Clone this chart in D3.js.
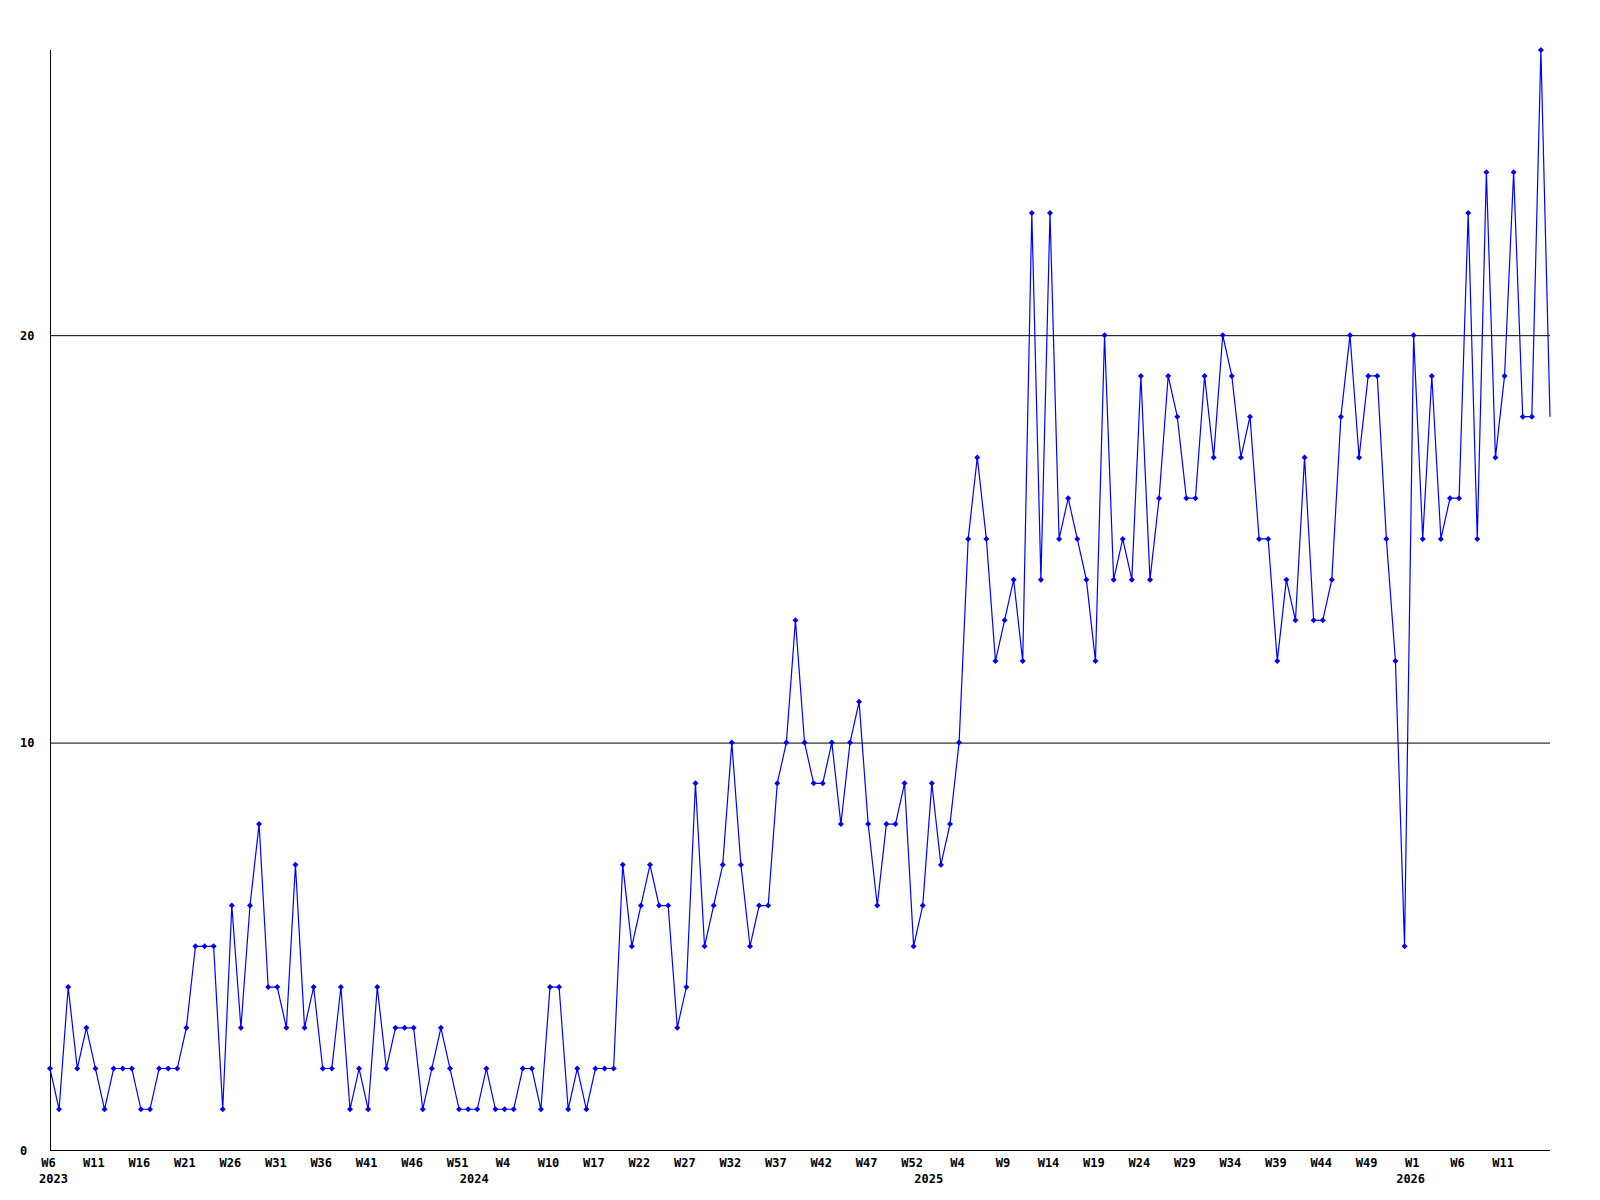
<!DOCTYPE html>
<html>
<head>
<meta charset="utf-8">
<script src="https://cdn.jsdelivr.net/npm/d3@7"></script>
<style>
  body { margin: 0; background: #ffffff; }
  #chart text { font-family: "DejaVu Sans Mono", monospace; font-weight: bold; font-size: 12px; fill: #000; }
</style>
</head>
<body>
<div id="chart"></div>
<script>
// weekly counts, one per point (2023 W6 .. 2026 W16)
const weekCounts = [
  2, 1, 4, 2, 3, 2, 1, 2, 2, 2, 1, 1, 2, 2, 2, 3, 5, 5, 5, 1,
  6, 3, 6, 8, 4, 4, 3, 7, 3, 4, 2, 2, 4, 1, 2, 1, 4, 2, 3, 3,
  3, 1, 2, 3, 2, 1, 1, 1, 2, 1, 1, 1, 2, 2, 1, 4, 4, 1, 2, 1,
  2, 2, 2, 7, 5, 6, 7, 6, 6, 3, 4, 9, 5, 6, 7, 10, 7, 5, 6, 6,
  9, 10, 13, 10, 9, 9, 10, 8, 10, 11, 8, 6, 8, 8, 9, 5, 6, 9, 7, 8,
  10, 15, 17, 15, 12, 13, 14, 12, 23, 14, 23, 15, 16, 15, 14, 12, 20, 14, 15, 14,
  19, 14, 16, 19, 18, 16, 16, 19, 17, 20, 19, 17, 18, 15, 15, 12, 14, 13, 17, 13,
  13, 14, 18, 20, 17, 19, 19, 15, 12, 5, 20, 15, 19, 15, 16, 16, 23, 15, 24, 17,
  19, 24, 18, 18, 27, 18
];

// x labels, one every 5 points
const tickLabels = [
  "W6", "W11", "W16", "W21", "W26", "W31", "W36", "W41", "W46", "W51",
  "W4", "W10", "W17", "W22", "W27", "W32", "W37", "W42", "W47", "W52",
  "W4", "W9", "W14", "W19", "W24", "W29", "W34", "W39", "W44", "W49",
  "W1", "W6", "W11"
];

// year labels and the point where each year starts
const yearLabels = ["2023", "2024", "2025", "2026"];
const yearStart = [0, 47, 97, 150];

const yTicks = [0, 10, 20];
const yMax = 27;

function whenDocumentLoaded(action) {
  if (document.readyState === "loading") {
    document.addEventListener("DOMContentLoaded", action);
  } else {
    action();
  }
}

function drawChart() {
  var width = 1600, height = 1200;
  var left = 50, right = 1550, top = 50, bottom = 1150;

  var svg = d3.select("#chart")
    .append("svg")
    .attr("width", width)
    .attr("height", height);

  svg.append("rect")
    .attr("width", width)
    .attr("height", height)
    .attr("fill", "#fff");

  var x = d3.scaleLinear()
    .domain([0, weekCounts.length - 1])
    .range([left, right]);

  var y = d3.scaleLinear()
    .domain([0, yMax])
    .range([bottom, top]);

  // ---------------------------//
  //       GRID  AND AXES       //
  // ---------------------------//
  svg.append("g")
    .selectAll("line")
    .data(yTicks.filter(d => d > 0))
    .enter()
    .append("line")
    .attr("x1", left)
    .attr("x2", right)
    .attr("y1", d => y(d) + 0.5)
    .attr("y2", d => y(d) + 0.5)
    .attr("stroke", "#000")
    .attr("stroke-width", 1);

  // left axis line + labels (labels sit flush left)
  var gY = svg.append("g")
    .attr("transform", "translate(" + left + ",0)")
    .call(d3.axisLeft(y).tickValues(yTicks).tickSize(0).tickSizeOuter(0).tickFormat(d3.format("d")));
  gY.select(".domain").attr("stroke", "#000").attr("d", "M0.5," + bottom + "V" + top);
  gY.selectAll("text")
    .attr("text-anchor", "start")
    .attr("x", 20 - left)
    .attr("dy", "0.35em");
  gY.attr("font-family", null).attr("font-size", null);

  // bottom axis with week labels
  var gX = svg.append("g")
    .attr("transform", "translate(0," + bottom + ")")
    .call(d3.axisBottom(x)
      .tickValues(d3.range(0, weekCounts.length, 5))
      .tickSize(0)
      .tickSizeOuter(0)
      .tickPadding(8)
      .tickFormat((d, i) => tickLabels[i]));
  gX.select(".domain").attr("stroke", "#000").attr("d", "M" + left + ",0.5H" + right);
  gX.selectAll("text").attr("dx", -2);
  gX.attr("font-family", null).attr("font-size", null);

  // year labels under the week labels
  svg.append("g")
    .selectAll("text")
    .data(yearLabels)
    .enter()
    .append("text")
    .attr("x", (d, i) => x(yearStart[i]) - 3)
    .attr("y", bottom + 33)
    .attr("text-anchor", "middle")
    .text(d => d)
    .each(function() {
      // keep the first one from running off the left edge
      var w = this.getComputedTextLength();
      var cx = +d3.select(this).attr("x");
      if (cx - w / 2 < 39) d3.select(this).attr("x", 39 + w / 2);
    });

  // ---------------------------//
  //       LINE AND MARKERS     //
  // ---------------------------//
  var line = d3.line()
    .x((d, i) => x(i))
    .y(d => y(d));

  svg.append("path")
    .datum(weekCounts)
    .attr("d", line)
    .attr("fill", "none")
    .attr("stroke", "#0000ff")
    .attr("stroke-width", 1.2);

  // the last (current) week has no marker
  svg.append("g")
    .selectAll("path")
    .data(weekCounts.slice(0, weekCounts.length - 1))
    .enter()
    .append("path")
    .attr("d", "M0,-3L3,0L0,3L-3,0Z")
    .attr("transform", (d, i) => "translate(" + x(i) + "," + y(d) + ")")
    .attr("fill", "#0000ff");
}

whenDocumentLoaded(drawChart);
</script>
</body>
</html>
